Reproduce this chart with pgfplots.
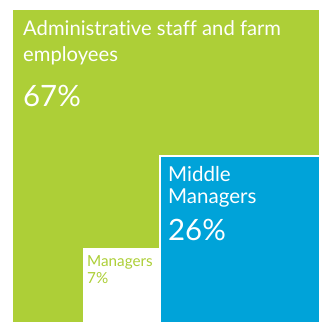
\documentclass[border=0pt]{standalone}
\usepackage{pgfplots}
\pgfplotsset{compat=1.18}
\usepackage{fontspec}
\setmainfont{Lato}[Ligatures=NoCommon]
\definecolor{limeg}{RGB}{173,207,55}
\definecolor{skyb}{RGB}{0,163,217}
\begin{document}
\begin{tikzpicture}
\begin{axis}[
  scale only axis, width=319bp, height=322bp,
  xmin=0, xmax=319, ymin=0, ymax=322, y dir=reverse,
  hide axis, clip=false]
\path (axis cs:0,0) rectangle (axis cs:319,322);
% large green square: Administrative staff and farm employees 67%
\addplot[fill=limeg, draw=none] coordinates {(13,10) (319,10) (319,322) (13,322)} -- cycle;
% white square: Managers 7%
\addplot[fill=white, draw=none] coordinates {(83,248) (161,248) (161,322) (83,322)} -- cycle;
% white border + blue square: Middle Managers 26%
\addplot[fill=white, draw=none] coordinates {(159,155) (319,155) (319,322) (159,322)} -- cycle;
\addplot[fill=skyb, draw=none] coordinates {(161,157) (319,157) (319,322) (161,322)} -- cycle;
\node[anchor=base west, inner sep=0pt, text=white, font=\fontsize{20.3}{26}\selectfont] at (axis cs:23,35.7) {Administrative staff and farm};
\node[anchor=base west, inner sep=0pt, text=white, font=\fontsize{20.3}{26}\selectfont] at (axis cs:23,61.7) {employees};
\node[anchor=base west, inner sep=0pt, text=white, font=\fontsize{29.5}{30}\selectfont] at (axis cs:23,106) {67\%};
\node[anchor=base west, inner sep=0pt, text=white, font=\fontsize{20.6}{22}\selectfont] at (axis cs:168,181) {Middle};
\node[anchor=base west, inner sep=0pt, text=white, font=\fontsize{20.6}{22}\selectfont] at (axis cs:168,203) {Managers};
\node[anchor=base west, inner sep=0pt, text=white, font=\fontsize{29.5}{30}\selectfont] at (axis cs:168,240) {26\%};
\node[anchor=base west, inner sep=0pt, text=limeg, font=\fontsize{15.3}{16}\selectfont] at (axis cs:87,266.7) {Managers};
\node[anchor=base west, inner sep=0pt, text=limeg, font=\fontsize{15.3}{16}\selectfont] at (axis cs:87,283) {7\%};
\end{axis}
\end{tikzpicture}
\end{document}
